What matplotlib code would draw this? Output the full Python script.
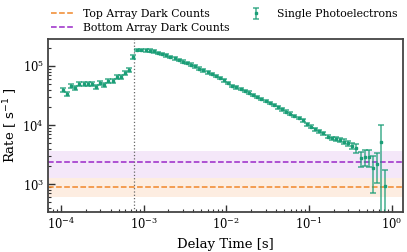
import numpy as np
import matplotlib
matplotlib.use("Agg")
import matplotlib.pyplot as plt

plt.rcParams['font.family'] = 'serif'
plt.rcParams['font.serif'] = ['DejaVu Serif']

# delay-time bin centres [s]
delay_s = [
    1.06e-4, 1.19e-4, 1.33e-4, 1.50e-4, 1.68e-4, 1.88e-4, 2.11e-4, 2.37e-4, 2.66e-4, 2.99e-4,
    3.35e-4, 3.76e-4, 4.22e-4, 4.73e-4, 5.31e-4, 5.96e-4, 6.68e-4, 7.50e-4, 8.41e-4, 9.44e-4,
    1.06e-3, 1.19e-3, 1.33e-3, 1.50e-3, 1.68e-3, 1.88e-3, 2.11e-3, 2.37e-3, 2.66e-3, 2.99e-3,
    3.35e-3, 3.76e-3, 4.22e-3, 4.73e-3, 5.31e-3, 5.96e-3, 6.68e-3, 7.50e-3, 8.41e-3, 9.44e-3,
    1.06e-2, 1.19e-2, 1.33e-2, 1.50e-2, 1.68e-2, 1.88e-2, 2.11e-2, 2.37e-2, 2.66e-2, 2.99e-2,
    3.35e-2, 3.76e-2, 4.22e-2, 4.73e-2, 5.31e-2, 5.96e-2, 6.68e-2, 7.50e-2, 8.41e-2, 9.44e-2,
    1.06e-1, 1.19e-1, 1.33e-1, 1.50e-1, 1.68e-1, 1.88e-1, 2.11e-1, 2.37e-1, 2.66e-1, 2.99e-1,
    3.35e-1, 3.76e-1, 4.22e-1, 4.73e-1, 5.31e-1, 5.96e-1, 6.68e-1, 7.50e-1, 8.41e-1,
]

# single photoelectron rate [1/s]
spe_rate = [
    39400, 33700, 46400, 43000, 49600, 49600, 49600, 49600, 44700, 51000,
    47700, 55900, 55900, 65900, 65900, 75300, 85600, 143500, 188000, 186000,
    184000, 181500, 177000, 166000, 159600, 151400, 141900, 134900, 126200, 118300,
    112500, 105200, 98900, 90200, 84500, 78300, 73300, 67800, 62700, 57300,
    51700, 46400, 43600, 40900, 37800, 35400, 32400, 29900, 27700, 25600,
    23700, 21900, 20000, 18600, 16900, 15600, 14300, 13200, 12000, 10400,
    9400, 8500, 7900, 7300, 6390, 6010, 5780, 5630, 5270, 4950,
    4450, 4070, 2760, 2940, 2870, 1870, 2190, 5140, 940,
]

spe_err = [
    3200, 2800, 3700, 3400, 3900, 3900, 3900, 3900, 3600, 4000,
    3800, 4400, 4400, 5200, 5200, 6000, 6800, 12000, 9400, 9300,
    9200, 9100, 8900, 8300, 8000, 7600, 7100, 6700, 6300, 5900,
    5600, 5300, 4900, 4500, 4200, 3900, 3700, 3400, 3100, 2900,
    2600, 2300, 2200, 2000, 1900, 1800, 1600, 1500, 1400, 1300,
    1200, 1100, 1000, 930, 850, 780, 720, 660, 600, 620,
    560, 510, 520, 480, 420, 400, 400, 400, 450, 480,
    570, 640, 800, 900, 900, 1150, 1150, 4900, 810,
]

# dark count levels [1/s]: mean, band low, band high
top_dark = [900, 617, 1263]
bottom_dark = [2410, 1260, 3650]
cut_time = 7.7e-4

green = '#1b9e77'

fig = plt.figure(figsize=(4.07, 2.52), dpi=100)
ax = fig.add_axes([0.118, 0.159, 0.872, 0.686])

ax.axhspan(top_dark[1], top_dark[2], color='#f5a66a', alpha=0.2, lw=0)
ax.axhspan(bottom_dark[1], bottom_dark[2], color='#c77ee0', alpha=0.18, lw=0)
ax.axhline(top_dark[0], color='#f0872a', ls='--', lw=1.1, label='Top Array Dark Counts')
ax.axhline(bottom_dark[0], color='#9a28c8', ls='--', lw=1.1, label='Bottom Array Dark Counts')
ax.axvline(cut_time, color='#666666', ls=':', lw=0.9)

ax.errorbar(delay_s, spe_rate, yerr=spe_err, fmt='s', color=green, ms=2,
            ecolor=(0.106, 0.62, 0.467, 0.65), elinewidth=1.4, capsize=2, capthick=1.4,
            label='Single Photoelectrons')

ax.set_xscale('log')
ax.set_yscale('log')
ax.set_xlim(7.0e-5, 1.37)
ax.set_ylim(340, 2.86e5)

ax.tick_params(which='both', direction='in', labelsize=8.3, color='#333333', pad=3)
ax.tick_params(which='major', length=5, width=1)
ax.tick_params(which='minor', length=2.5, width=0.8)
for sp in ax.spines.values():
    sp.set_color('#444444')
    sp.set_linewidth(1.3)

ax.set_xlabel('Delay Time [s]', fontsize=9.5, labelpad=4)
ax.set_ylabel(r'Rate [ $\mathrm{s}^{-1}$ ]', fontsize=9.5, labelpad=2)

h, l = ax.get_legend_handles_labels()
fig.legend(h, l, loc='upper left', bbox_to_anchor=(0.113, 0.985), ncol=2,
           frameon=False, fontsize=7.8, borderpad=0, handlelength=2,
           handletextpad=0.9, columnspacing=1.5, labelspacing=0.35)

fig.savefig('out.png', dpi=100)
